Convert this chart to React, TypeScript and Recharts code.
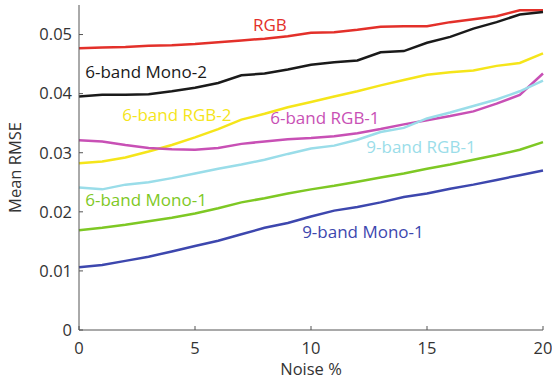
import { Label, Line, LineChart, ReferenceDot, XAxis, YAxis } from "recharts";

const noise = [0, 1, 2, 3, 4, 5, 6, 7, 8, 9, 10, 11, 12, 13, 14, 15, 16, 17, 18, 19, 20];

const rgb = [0.0477, 0.0478, 0.0479, 0.0481, 0.0482, 0.0484, 0.0487, 0.049, 0.0493, 0.0497, 0.0503, 0.0504, 0.0508, 0.0513, 0.0514, 0.0514, 0.0521, 0.0526, 0.0531, 0.0541, 0.0541];
const mono2 = [0.0395, 0.0398, 0.0398, 0.0399, 0.0404, 0.041, 0.0418, 0.0431, 0.0434, 0.0441, 0.0449, 0.0453, 0.0456, 0.047, 0.0472, 0.0486, 0.0496, 0.051, 0.0521, 0.0534, 0.0538];
const rgb2 = [0.0282, 0.0285, 0.0292, 0.0302, 0.0313, 0.0326, 0.034, 0.0356, 0.0366, 0.0377, 0.0386, 0.0395, 0.0404, 0.0414, 0.0423, 0.0432, 0.0436, 0.0439, 0.0447, 0.0452, 0.0468];
const rgb1 = [0.0321, 0.0319, 0.0313, 0.0308, 0.0306, 0.0305, 0.0308, 0.0315, 0.0319, 0.0323, 0.0325, 0.0328, 0.0333, 0.034, 0.0348, 0.0355, 0.0362, 0.037, 0.0383, 0.0398, 0.0434];
const rgb1nine = [0.0241, 0.0238, 0.0246, 0.025, 0.0257, 0.0265, 0.0273, 0.028, 0.0288, 0.0298, 0.0307, 0.0312, 0.0322, 0.0335, 0.0342, 0.0358, 0.0368, 0.0379, 0.039, 0.0404, 0.0422];
const mono1 = [0.0169, 0.0173, 0.0178, 0.0184, 0.019, 0.0197, 0.0206, 0.0216, 0.0223, 0.0231, 0.0238, 0.0244, 0.0251, 0.0258, 0.0265, 0.0273, 0.028, 0.0288, 0.0296, 0.0305, 0.0318];
const mono1nine = [0.0106, 0.011, 0.0117, 0.0124, 0.0133, 0.0142, 0.0151, 0.0162, 0.0173, 0.0181, 0.0192, 0.0202, 0.0208, 0.0216, 0.0225, 0.0231, 0.0239, 0.0246, 0.0254, 0.0262, 0.027];

const xTicks = [0, 5, 10, 15, 20];
const yTicks = [0, 0.01, 0.02, 0.03, 0.04, 0.05];

const series = [
  { key: "rgb", name: "RGB", values: rgb, color: "#e3302a" },
  { key: "mono2", name: "6-band Mono-2", values: mono2, color: "#1a1a1a" },
  { key: "rgb2", name: "6-band RGB-2", values: rgb2, color: "#f5e51a" },
  { key: "rgb1", name: "6-band RGB-1", values: rgb1, color: "#c850b5" },
  { key: "rgb1nine", name: "9-band RGB-1", values: rgb1nine, color: "#9adde9" },
  { key: "mono1", name: "6-band Mono-1", values: mono1, color: "#7ec824" },
  { key: "mono1nine", name: "9-band Mono-1", values: mono1nine, color: "#3d47ae" },
];

// where each series name sits, in data coordinates
const labelNoise = [8.23, 2.89, 4.22, 10.6, 14.74, 2.89, 12.24];
const labelValue = [0.0517, 0.0436, 0.0364, 0.0359, 0.031, 0.022, 0.0166];

const data = noise.map((n, i) => {
  const row: Record<string, number> = { noise: n };
  series.forEach((s) => (row[s.key] = s.values[i]));
  return row;
});

const axisColor = "#555555";
const textColor = "#333333";
const font = "'Open Sans', sans-serif";

export default function App() {
  return (
    <div style={{ position: "absolute", left: 0, top: 0, background: "#fff" }}>
      <LineChart width={552} height={382} data={data} margin={{ top: 5, right: 9, left: 0, bottom: 0 }} style={{ fontFamily: font }}>
        <XAxis
          dataKey="noise"
          type="number"
          domain={[0, 20]}
          ticks={xTicks}
          height={52}
          stroke={axisColor}
          tickSize={-4}
          tickMargin={16}
          tick={{ fill: textColor, fontSize: 16.5 }}
        >
          <Label value="Noise %" position="insideBottom" offset={7} fill={textColor} fontSize={16.5} />
        </XAxis>
        <YAxis
          type="number"
          domain={[0, 0.055]}
          ticks={yTicks}
          width={79}
          stroke={axisColor}
          tickSize={-4}
          tickMargin={11}
          tick={{ fill: textColor, fontSize: 16.5 }}
          tickFormatter={(v: number) => (v === 0 ? "0" : v.toFixed(2))}
        >
          <Label value="Mean RMSE" angle={-90} position="insideLeft" offset={15} fill={textColor} fontSize={16.5} style={{ textAnchor: "middle" }} />
        </YAxis>
        {series.map((s) => (
          <Line
            key={s.key}
            dataKey={s.key}
            stroke={s.color}
            strokeWidth={2.5}
            dot={false}
            type="linear"
            isAnimationActive={false}
          />
        ))}
        {series.map((s, i) => (
          <ReferenceDot
            key={s.key + "-label"}
            x={labelNoise[i]}
            y={labelValue[i]}
            r={0}
            fill="none"
            stroke="none"
            ifOverflow="visible"
            label={{ value: s.name, position: "center", fill: s.color, fontSize: 17 }}
          />
        ))}
      </LineChart>
    </div>
  );
}
